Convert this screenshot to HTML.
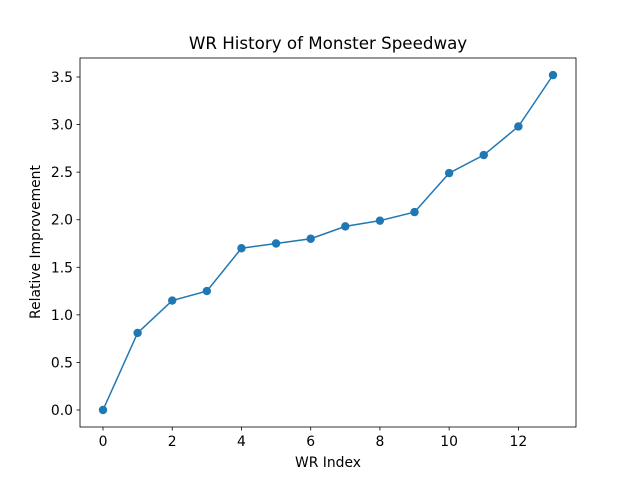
<!DOCTYPE html>
<html><head><meta charset="utf-8"><style>body{margin:0;background:#fff}svg{font-family:"DejaVu Sans","Liberation Sans",sans-serif}</style></head>
<body>
<svg id="c" width="640" height="480" xmlns="http://www.w3.org/2000/svg"></svg>
<script>
const xValues=[0,1,2,3,4,5,6,7,8,9,10,11,12,13];
const yValues=[0,0.81,1.15,1.25,1.70,1.75,1.80,1.93,1.99,2.08,2.49,2.68,2.98,3.52];
const xTicks=[0,2,4,6,8,10,12];
const yTicks=[0.0,0.5,1.0,1.5,2.0,2.5,3.0,3.5];
const NS='http://www.w3.org/2000/svg';
const svg=document.getElementById('c');
const L=80,R=576,T=58,B=427;
const xs=v=>103+v*34.615;
const ys=v=>410-v*95.14;
function mk(t,a,p){const e=document.createElementNS(NS,t);for(const k in a)e.setAttribute(k,a[k]);(p||svg).appendChild(e);return e;}
const bg=mk('rect',{x:L,y:T,width:R-L,height:B-T,fill:'#fff',stroke:'#000','stroke-width':0.8});


xTicks.forEach(v=>{const x=xs(v);
const l=mk('line',{x1:x,x2:x,y1:B,y2:B+3.5,stroke:'#000','stroke-width':0.8});


const t=mk('text',{x:x,y:B+19,'text-anchor':'middle','font-size':13.9});t.textContent=v;

});
yTicks.forEach(v=>{const y=ys(v);
const l=mk('line',{x1:L-3.5,x2:L,y1:y,y2:y,stroke:'#000','stroke-width':0.8});


const t=mk('text',{x:L-7,y:y+5,'text-anchor':'end','font-size':13.9});t.textContent=v.toFixed(1);

});
const pl=mk('polyline',{points:xValues.map((x,i)=>xs(x)+','+ys(yValues[i])).join(' '),fill:'none',stroke:'#1f77b4','stroke-width':1.5});


xValues.forEach((x,i)=>{const c=mk('circle',{cx:xs(x),cy:ys(yValues[i]),r:4.2,fill:'#1f77b4'});

});
const ti=mk('text',{x:328,y:49,'text-anchor':'middle','font-size':16.7});ti.textContent='WR History of Monster Speedway';


const xl=mk('text',{x:328,y:467,'text-anchor':'middle','font-size':13.9});xl.textContent='WR Index';


const yl=mk('text',{x:40,y:242,'text-anchor':'middle','font-size':13.9,transform:'rotate(-90 40 242)'});yl.textContent='Relative Improvement';


</script>
</body></html>
